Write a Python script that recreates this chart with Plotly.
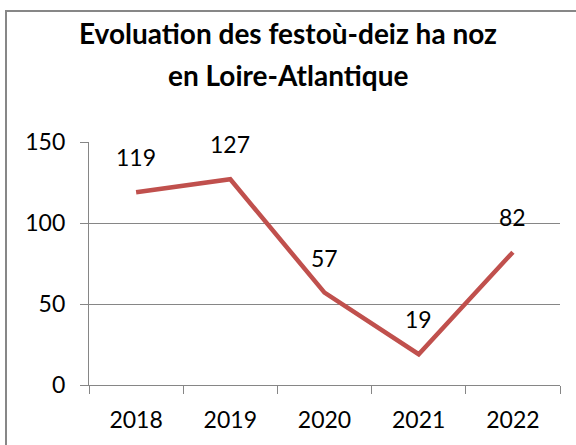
import plotly.graph_objects as go

years = ["2018", "2019", "2020", "2021", "2022"]
values = [119, 127, 57, 19, 82]
y_ticks = [0, 50, 100, 150]
title_lines = ["Evoluation des festoù-deiz ha noz", "en Loire-Atlantique"]

FONT = "Lato"
W, H = 576, 445
L, R, T, B = 89, 16, 142, 58
pw = W - L - R
ph = H - T - B

def px_to_paper_x(px):
    return (px - L) / pw

def px_to_paper_y(py):
    return (H - B - py) / ph

fig = go.Figure()
fig.add_trace(go.Scatter(
    x=years, y=values, mode="lines",
    line=dict(color="#C0504D", width=4.5),
    hoverinfo="x+y",
))

for i, yv in enumerate(values):
    fig.add_annotation(x=i, y=yv, xref="x", yref="y", text=str(yv), showarrow=False,
                       yshift=35, font=dict(family=FONT, size=23, color="#000000"))

for line, ypx in zip(title_lines, [32, 74]):
    fig.add_annotation(x=px_to_paper_x(288), y=px_to_paper_y(ypx), xref="paper", yref="paper",
                       xanchor="center", yanchor="middle", showarrow=False,
                       text="<b>" + line + "</b>",
                       font=dict(family=FONT, size=28, color="#000000"))

fig.add_shape(type="rect", xref="paper", yref="paper",
              x0=px_to_paper_x(6), x1=px_to_paper_x(590),
              y0=px_to_paper_y(460), y1=px_to_paper_y(10),
              line=dict(color="#878787", width=2), fillcolor="rgba(0,0,0,0)",
              layer="below")

fig.update_layout(
    width=W, height=H,
    margin=dict(l=L, r=R, t=T, b=B, pad=0),
    paper_bgcolor="white", plot_bgcolor="white",
    showlegend=False,
    font=dict(family=FONT, size=23, color="#000000"),
)
fig.update_xaxes(
    type="category", range=[-0.5, 4.5],
    showline=True, linecolor="#868686", linewidth=1.3,
    ticks="outside", tickson="boundaries", ticklen=8, tickcolor="#868686", tickwidth=1.3,
    showgrid=False, ticklabelstandoff=14,
    tickfont=dict(family=FONT, size=23, color="#000000"),
)
fig.update_yaxes(
    range=[0, 150], tickvals=y_ticks,
    showline=True, linecolor="#868686", linewidth=1.3,
    ticks="outside", ticklen=8, tickcolor="#868686", tickwidth=1.3,
    showgrid=True, gridcolor="#868686", gridwidth=1.3,
    zeroline=False, ticklabelstandoff=10,
    tickfont=dict(family=FONT, size=23, color="#000000"),
)

fig.write_html("out.html", config={"displayModeBar": False},
               post_script="document.body.style.margin='0';document.body.style.overflow='hidden';")
